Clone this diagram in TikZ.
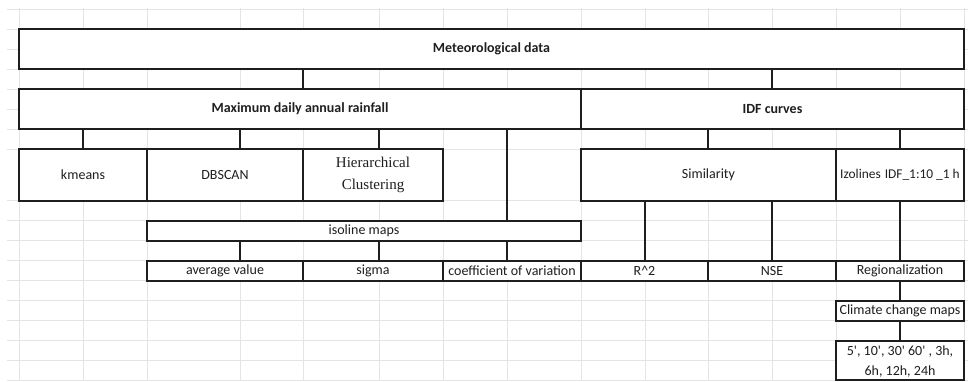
\documentclass[tikz,border=0pt]{standalone}
\usepackage{fontspec}
\setmainfont{Carlito}
\newfontfamily\serifcell{Liberation Serif}
\definecolor{boxline}{HTML}{1E1E1E}
\definecolor{txt}{HTML}{1F1F1F}
\definecolor{gridc}{HTML}{E4E4E4}
\begin{document}
\begin{tikzpicture}[x=1pt,y=-1pt,
  cell/.style={draw=boxline, fill=white, line width=1.8pt, inner sep=0pt, outer sep=0pt,
    anchor=north west, text=txt, font=\fontsize{14}{20}\selectfont, align=center},
  head/.style={cell, font=\bfseries\fontsize{14}{16}\selectfont},
  link/.style={draw=boxline, line width=1.7pt},
  gridline/.style={draw=gridc, line width=0.9pt}]
\useasboundingbox (0,0) rectangle (968,381);
\fill[white] (0,0) rectangle (968,381);
% spreadsheet grid
\foreach \y in {9.5,29,49,69,89,109,129,149,200.7,220.7,240.7,260.7,280.7,300.7,320.7,340.7,360.7,380.5}
  \draw[gridline] (7,\y) -- (968,\y);
\foreach \x in {19,83,147,240,303,379,443,507,581,645,708,772,836,900,964}
  \draw[gridline] (\x,8) -- (\x,381);
% connector x positions
\coordinate (x83) at (83,0);
\coordinate (x240) at (240,0);
\coordinate (x303) at (303,0);
\coordinate (x379) at (379,0);
\coordinate (x507) at (507,0);
\coordinate (x645) at (645,0);
\coordinate (x708) at (708,0);
\coordinate (x772) at (772,0);
\coordinate (x900) at (900,0);
% boxes
\node[head, minimum width=945pt, minimum height=40pt] (met) at (19,29) {Meteorological data};
\node[head, minimum width=562pt, minimum height=40pt] (max) at (19,89) {Maximum daily annual rainfall};
\node[head, minimum width=383pt, minimum height=40pt] (idf) at (581,89) {IDF curves};
\node[cell, minimum width=128pt, minimum height=51.7pt] (kmeans) at (19,149) {kmeans};
\node[cell, minimum width=156pt, minimum height=51.7pt] (dbscan) at (147,149) {DBSCAN};
\node[cell, minimum width=140pt, minimum height=51.7pt, font=\serifcell\fontsize{15}{22}\selectfont] (hier) at (303,149) {Hierarchical\\Clustering};
\node[cell, minimum width=255pt, minimum height=51.7pt] (sim) at (581,149) {Similarity};
\node[cell, minimum width=128pt, minimum height=51.7pt, font=\fontsize{13.4}{20}\selectfont] (izo) at (836,149) {Izolines\hspace{1pt} IDF\_1:10 \_1 h};
\node[cell, minimum width=434pt, minimum height=20pt] (iso) at (147,220.7) {isoline maps};
\node[cell, minimum width=156pt, minimum height=20pt] (avg) at (147,260.7) {average value};
\node[cell, minimum width=140pt, minimum height=20pt] (sigma) at (303,260.7) {sigma};
\node[cell, minimum width=138pt, minimum height=20pt] (cov) at (443,260.7) {coefficient of variation};
\node[cell, minimum width=127pt, minimum height=20pt] (r2) at (581,260.7) {R\textasciicircum 2};
\node[cell, minimum width=128pt, minimum height=20pt] (nse) at (708,260.7) {NSE};
\node[cell, minimum width=128pt, minimum height=20pt] (reg) at (836,260.7) {Regionalization};
\node[cell, minimum width=128pt, minimum height=20pt] (ccm) at (836,300.7) {Climate change maps};
\node[cell, minimum width=128pt, minimum height=39.3pt, text depth=0pt] (dur) at (836,340.7)
  {5\textquotesingle, 10\textquotesingle, 30\textquotesingle\ 60\textquotesingle\ , 3h,\\6h, 12h, 24h};
% connectors
\draw[link] (met.south -| x303) -- (max.north -| x303);
\draw[link] (met.south -| x772) -- (idf.north -| x772);
\draw[link] (max.south -| x83) -- (kmeans.north -| x83);
\draw[link] (max.south -| x240) -- (dbscan.north -| x240);
\draw[link] (max.south -| x379) -- (hier.north -| x379);
\draw[link] (max.south -| x507) -- (iso.north -| x507);
\draw[link] (idf.south -| x708) -- (sim.north -| x708);
\draw[link] (idf.south -| x900) -- (izo.north -| x900);
\draw[link] (iso.south -| x240) -- (avg.north -| x240);
\draw[link] (iso.south -| x379) -- (sigma.north -| x379);
\draw[link] (iso.south -| x507) -- (cov.north -| x507);
\draw[link] (sim.south -| x645) -- (r2.north -| x645);
\draw[link] (sim.south -| x772) -- (nse.north -| x772);
\draw[link] (izo.south -| x900) -- (reg.north -| x900);
\draw[link] (reg.south -| x900) -- (ccm.north -| x900);
\draw[link] (ccm.south -| x900) -- (dur.north -| x900);
\end{tikzpicture}
\end{document}
